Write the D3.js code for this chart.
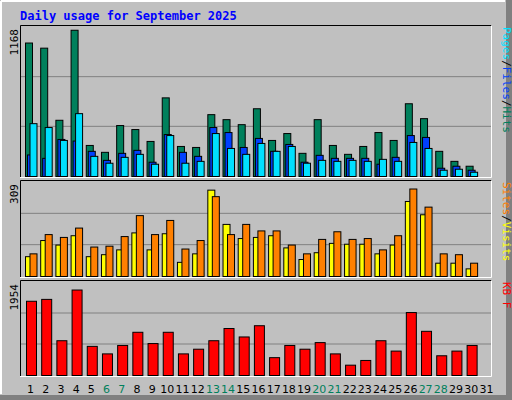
<!DOCTYPE html>
<html><head><meta charset="utf-8">
<script src="https://cdn.jsdelivr.net/npm/d3@7"></script>
<style>body{margin:0;background:#fff}</style>
</head><body>
<script>
const days = d3.range(1, 32);
const weekends = [6,7,13,14,20,21,27,28];
const hits  = [1066,1025,449,1168,248,193,407,375,280,628,240,232,494,454,414,541,288,343,185,454,248,177,240,351,288,581,462,201,121,82,0];
const files = [172,145,296,283,201,129,185,209,114,335,193,161,391,351,232,304,201,256,114,169,145,145,145,98,153,327,312,66,82,50,0];
const pages = [422,391,288,502,161,106,153,177,98,327,106,121,343,224,177,264,201,240,106,129,121,129,121,137,121,272,224,50,58,34,0];
const sites = [70,127,111,144,70,77,94,154,94,151,50,80,305,184,134,138,144,101,60,84,117,114,114,80,111,265,218,47,47,27,0];
const visits= [80,148,138,171,104,107,141,215,148,198,97,127,282,148,184,161,161,111,80,131,158,131,134,94,144,309,245,80,77,47,0];
const kbytes= [1697,1740,795,1954,666,494,687,988,730,988,494,601,795,1074,881,1138,408,687,601,752,494,236,344,795,558,1439,1010,451,558,687,0];

const W=512,H=400;
const svg=d3.select("body").append("svg").attr("width",W).attr("height",H);
svg.append("rect").attr("width",W).attr("height",H).attr("fill","#C0C0C0");
svg.append("rect").attr("x",506).attr("y",0).attr("width",6).attr("height",H).attr("fill","#808080");
svg.append("rect").attr("x",0).attr("y",395).attr("width",W).attr("height",5).attr("fill","#808080");
svg.append("line").attr("x1",1).attr("y1",1).attr("x2",505).attr("y2",1).attr("stroke","#fff").attr("stroke-width",2);
svg.append("line").attr("x1",1).attr("y1",1).attr("x2",1).attr("y2",394).attr("stroke","#fff").attr("stroke-width",2);

svg.append("text").attr("x",20).attr("y",20).attr("fill","#0000FF")
  .attr("font-family","DejaVu Sans Mono").attr("font-weight","bold").attr("font-size",12)
  .text("Daily usage for September 2025");

const x=d3.scaleBand().domain(days).range([20,491]);
const mono="DejaVu Sans Mono";

function panel(top,bottom,max,label,series,rlabels){
  const y=d3.scaleLinear().domain([0,max]).range([bottom,top+2]);
  svg.append("rect").attr("x",20).attr("y",top).attr("width",471).attr("height",bottom-top+1).attr("fill","#C0C0C0");
  [1,2].forEach(k=>{const yy=bottom-(bottom-top-2)*k/3;
    svg.append("line").attr("x1",20).attr("x2",491).attr("y1",yy).attr("y2",yy).attr("stroke","#808080");});
  svg.append("path").attr("d",`M20.5,${bottom+1}V${top+0.5}H491.5`).attr("fill","none").attr("stroke","#000");
  svg.append("path").attr("d",`M491.5,${top+0.5}V${bottom+1.5}H20`).attr("fill","none").attr("stroke","#fff");
  series.forEach(s=>{
    svg.append("g").selectAll("rect").data(days.filter((d,i)=>s.v[i]>0)).join("rect")
      .attr("x",d=>x(d)+s.off+0.5).attr("width",s.w)
      .attr("y",d=>y(s.v[d-1])+0.5).attr("height",d=>bottom-y(s.v[d-1]))
      .attr("fill",s.c).attr("stroke","#000");
  });
  svg.append("text").attr("transform",`translate(18,${top+4}) rotate(-90)`).attr("text-anchor","end")
    .attr("font-family",mono).attr("font-size",11).attr("fill","#000").text(label);
  const t=svg.append("text").attr("transform",`translate(503,${top+2}) rotate(90)`)
    .attr("font-family",mono).attr("font-size",11);
  rlabels.forEach((r,i)=>{ if(i>0) t.append("tspan").attr("fill","#000").text("/");
    t.append("tspan").attr("fill",r[1]).text(r[0]);});
  return y;
}
// right labels read bottom-to-top in the original; text rotated so reading top-down is reversed
function rl(top,bottom,parts){
  const t=svg.append("text").attr("transform",`translate(504,${top+3}) rotate(90)`).attr("font-family",mono).attr("font-size",11);
}
panel(25,176,1190,"1168",[
  {v:hits,c:"#00805C",off:5,w:7},
  {v:files,c:"#0040FF",off:7,w:7},
  {v:pages,c:"#00E0FF",off:9.5,w:7}
],[["Hits","#00805C"],["Files","#0040FF"],["Pages","#00E0FF"]].reverse());
panel(180,276,332,"309",[
  {v:sites,c:"#FFFF00",off:5,w:7},
  {v:visits,c:"#FF8000",off:9.5,w:7}
],[["Visits","#FFFF00"],["Sites","#FF8000"]].reverse());
panel(280,375,2126,"1954",[
  {v:kbytes,c:"#FF0000",off:6,w:10}
],[["KB F","#FF0000"]]);

svg.append("g").selectAll("text").data(days).join("text")
  .attr("x",d=>x(d)+x.bandwidth()/2+3).attr("y",393).attr("text-anchor","middle")
  .attr("font-family","DejaVu Sans").attr("font-size",11)
  .attr("fill",d=>weekends.includes(d)?"#00805C":"#000").text(d=>d);
</script>
</body></html>
